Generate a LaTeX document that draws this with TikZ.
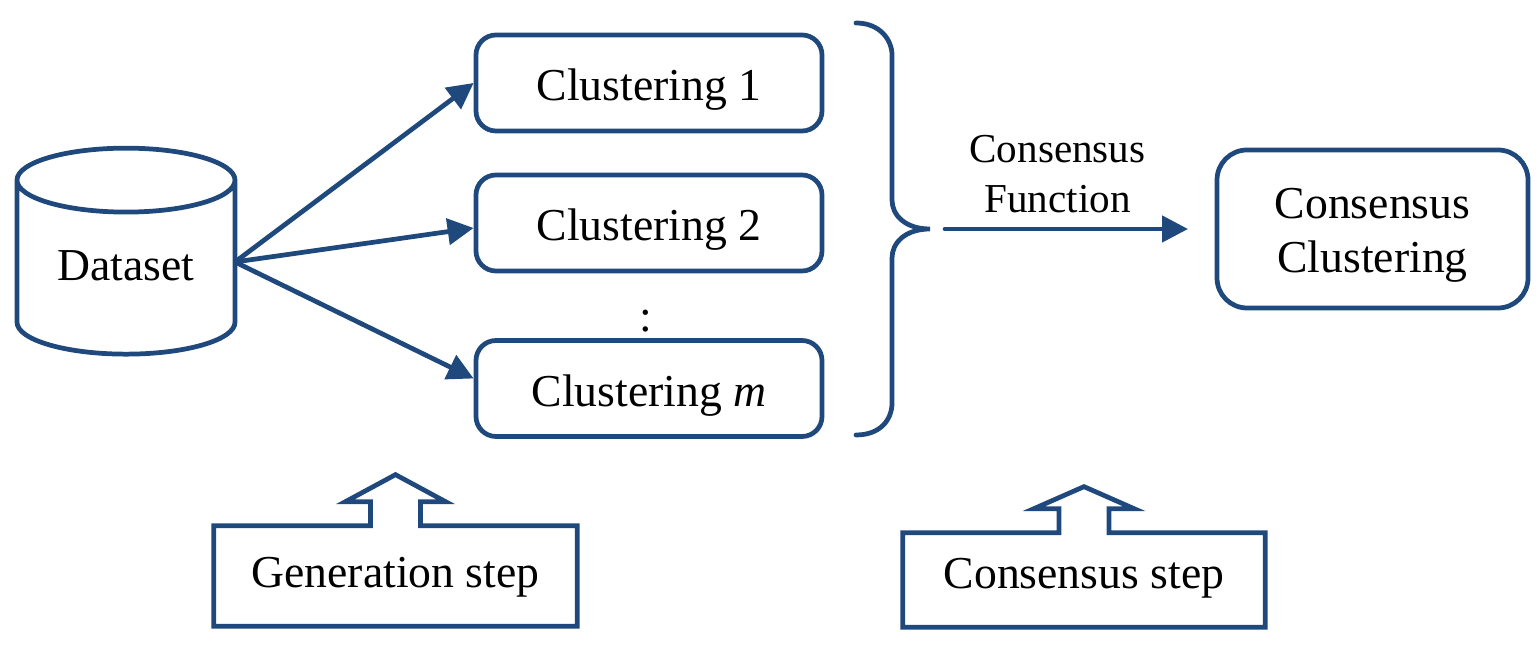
\documentclass[tikz,border=0pt]{standalone}
\usepackage{fontspec}
\setmainfont{Liberation Serif}
\usetikzlibrary{arrows.meta,calc,shapes.geometric}
\definecolor{linkblue}{HTML}{1F497D}
\tikzset{
    block/.style = {draw=linkblue, line width=2.7pt, rectangle, rounded corners=.4cm,
        minimum height=1.92cm, minimum width=6.92cm, align=center, font=\fontsize{26}{31}\selectfont,
        text height=20pt, text depth=0pt},
    result/.style = {block, rounded corners=.6cm, minimum height=3.16cm, minimum width=6.22cm,
        text height=50pt, text depth=0pt},
    store/.style = {draw=linkblue, line width=2.7pt, cylinder, shape border rotate=90, aspect=.43,
        minimum height=4.12cm, minimum width=4.36cm, font=\fontsize{26}{31}\selectfont},
    steptext/.style = {rectangle, minimum height=2cm, minimum width=7.26cm, font=\fontsize{26}{31}\selectfont,
        text height=18.5pt, text depth=5.6pt},
    arrow/.style = {draw=linkblue, line width=2.7pt, -{Triangle[length=.52cm,width=.52cm]}},
    outline/.style = {draw=linkblue, line width=2.7pt, line join=miter}
}
\newcommand{\upcallout}[2]{%
    \draw[outline] (#1.south west) -- (#1.north west) -- ($(#1.north)+(-.5,0)$) -- ++(0,.48) -- ++(-.5,0)
        -- ($(#1.north)+(0,#2)$) -- ($(#1.north)+(1,.48)$) -- ++(-.5,0) -- ($(#1.north)+(.5,0)$)
        -- (#1.north east) -- (#1.south east) -- cycle;}
\begin{document}
\begin{tikzpicture}[node distance=2.8cm]
    \useasboundingbox (0,0) rectangle (30.8,13);
    \node [store] (data) at (2.52,7.53) {\raisebox{.3cm}{Dataset}};
    \node [block] (clu1) at (12.98,11.34) {Clustering 1};
    \node [block, below of=clu1] (clu2) {Clustering 2};
    \node [block, below of=clu2, node distance=3.31cm] (clu3) {Clustering \textit{m}};
    \node [font=\fontsize{26}{31}\selectfont] (dots) at (12.92,6.57) {:};
    \node [result] (cons) at (27.45,8.42) {Consensus\\Clustering};
    \coordinate (fan) at (4.7,7.76);
    \draw[arrow] (fan) -- ([yshift=.0cm]clu1.west);
    \draw[arrow] (fan) -- ([yshift=-.1cm]clu2.west);
    \draw[arrow] (fan) -- ([yshift=.2cm]clu3.west);
    % brace
    \coordinate (tip) at (18.6,8.42);
    \draw[outline, line cap=round] (17.12,12.54) .. controls (17.6,12.54) and (17.84,12.2) .. (17.84,11.9)
        -- (17.84,9.0) .. controls (17.84,8.7) and (18.1,8.42) .. (tip)
        .. controls (18.1,8.42) and (17.84,8.14) .. (17.84,7.84)
        -- (17.84,4.94) .. controls (17.84,4.6) and (17.6,4.3) .. (17.12,4.3);
    \coordinate (from) at (18.9,8.42);
    \coordinate (to) at (23.76,8.42);
    \draw[arrow, line cap=round] (from) -- node[above=1mm, xshift=-.18cm, yshift=.05cm, align=center, text=black, font=\fontsize{23.4}{28.5}\selectfont] (fun) {Consensus\\Function} (to);
    \node [steptext] (gen) at (7.91,1.48) {Generation step};
    \upcallout{gen}{1.02}
    \node [steptext, minimum height=1.88cm, minimum width=7.24cm, text depth=8.6pt] (step) at (21.68,1.4) {Consensus step};
    \upcallout{step}{.92}
\end{tikzpicture}
\end{document}
